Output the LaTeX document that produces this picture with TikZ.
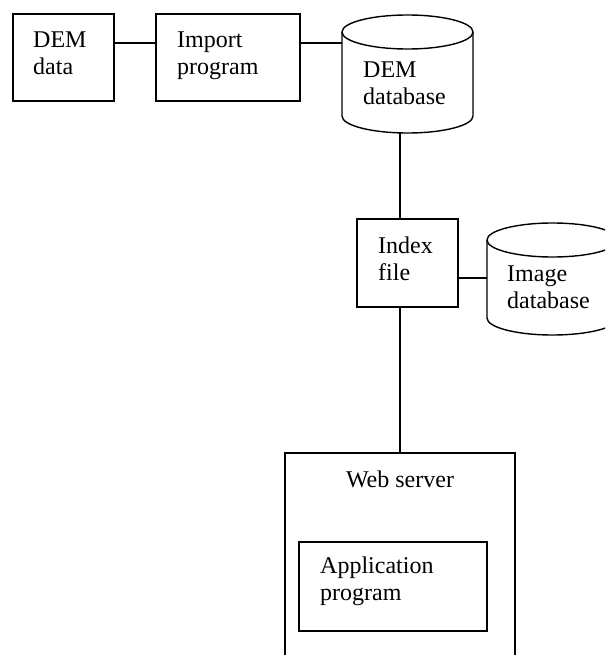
\documentclass[tikz,border=0pt]{standalone}
\usepackage{fontspec}
\setmainfont{Liberation Serif}
\begin{document}
\begin{tikzpicture}[x=1pt,y=-1pt,
  box/.style={draw, line width=1.4pt, inner sep=0pt},
  lbl/.style={font=\fontsize{24}{27}\selectfont, inner sep=0pt, anchor=base west, align=left},
  conn/.style={line width=1.4pt}]
\useasboundingbox (0,0) rectangle (605,655);
\clip (0,0) rectangle (605,655);
% boxes
\node[box, minimum width=101pt, minimum height=87pt] (demdata) at (63.5,57.5) {};
\node[box, minimum width=144pt, minimum height=87pt] (import) at (228,57.5) {};
\node[box, minimum width=101pt, minimum height=88pt] (index) at (407.5,263) {};
\node[box, minimum width=230pt, minimum height=260pt] (web) at (400,583) {};
\node[box, minimum width=188pt, minimum height=89pt] (app) at (393,586.5) {};
% cylinders
\draw[conn] (342,32) -- (342,116) arc (180:360:65.5pt and 17pt) -- (473,32);
\draw[conn] (407.5,32) ellipse (65.5pt and 17pt);
\draw[conn] (487,240) -- (487,318) arc (180:360:65.5pt and 17pt) -- (618,240);
\draw[conn] (552.5,240) ellipse (65.5pt and 17pt);
\coordinate (demdbW) at (342,43);
\coordinate (demdbS) at (400,132.9);
\coordinate (imgW) at (487,278);
% labels (anchor = baseline of the last line)
\node[lbl] (t1) at (33,75) {DEM\\data};
\node[lbl] (t2) at (177,75) {Import\\program};
\node[lbl] (t3) at (363,105) {DEM\\database};
\node[lbl] (t4) at (378,280) {Index\\file};
\node[lbl] (t5) at (507,308) {Image\\database};
\node[lbl, anchor=base] (t6) at (400,487) {Web server};
\node[lbl] (t7) at (320,600) {Application\\program};
% connectors
\draw[conn] ([yshift=14.5pt]demdata.east) -- ([yshift=14.5pt]import.west);
\draw[conn] ([yshift=14.5pt]import.east) -- (demdbW);
\draw[conn] (demdbS) -- (demdbS |- index.north);
\draw[conn] (index.east |- imgW) -- (imgW);
\draw[conn] (web.north |- index.south) -- (web.north);
\end{tikzpicture}
\end{document}
